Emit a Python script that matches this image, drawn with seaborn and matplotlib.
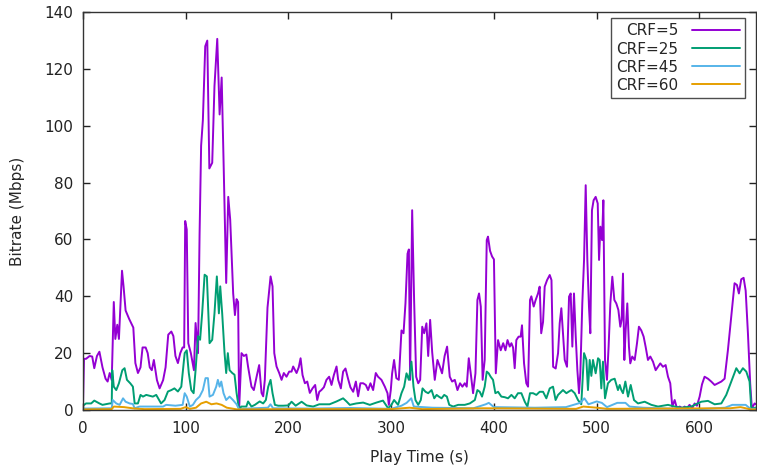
"""Bitrate over play time for four CRF settings (gnuplot-like look)."""

import matplotlib
matplotlib.use("Agg")
import matplotlib.pyplot as plt
import seaborn as sns

# readings: (time in s, bitrate in Mbps)
crf5_t = [0, 1, 3, 6.5, 9, 11, 13.6, 16, 19, 22, 24, 26, 28, 30, 31.5, 33.4, 35, 38, 39.5,
          41.5, 45, 49, 51, 53.5, 56, 58, 61, 63, 65, 67, 69, 72, 74.6, 78, 80.4, 83, 86,
          88, 90, 92.4, 94.7, 97, 98.5, 99.5, 101, 102.5, 105, 108, 109.6, 112, 113.5, 115,
          116.7, 119, 121, 123, 125.8, 128, 130.7, 133, 135, 137, 139.4, 141.4, 143.3,
          146.2, 147.9, 149.5, 151, 152, 154.3, 156.6, 159, 160.7, 164, 166.3, 169, 171.5,
          173.8, 175.4, 177, 179.6, 182.6, 184.5, 186.2, 188.4, 191, 193.3, 195.5, 198.1,
          200.7, 203, 204.6, 207.9, 210, 211.8, 213.7, 216, 218.3, 220.8, 223.4, 226, 228,
          230, 232, 234.5, 237, 239.6, 241.9, 244.2, 246.8, 248.4, 251, 253.2, 255.5, 258,
          260.3, 263, 265.6, 267.8, 270, 272.7, 275.3, 277.5, 279.8, 282.4, 285, 287.2,
          290.5, 293.8, 296.4, 297.7, 299.6, 300.9, 302.8, 305, 307.4, 310, 312, 313.9,
          315.9, 317.2, 318.4, 320.4, 322.3, 324.3, 326.3, 328.2, 330.2, 332.1, 334.3, 336,
          337.9, 339.9, 342.4, 345, 347.3, 349.5, 352, 354.4, 357, 359.3, 361.9, 364.5, 367,
          369.3, 371.6, 373.5, 375.5, 377.4, 379.7, 382, 383.9, 385.5, 387.2, 389, 391, 393,
          394.2, 396.2, 398.2, 400, 401.8, 404, 406.6, 409, 411.2, 413.2, 415.4, 417, 418.6,
          420.2, 421.8, 424, 426, 427.3, 429.3, 431.5, 433.2, 435.1, 436.4, 438.7, 440.6,
          442.9, 444.5, 446, 447.8, 449.4, 451.7, 454.3, 456, 457.6, 460.1, 462.4, 464,
          465.6, 467.2, 468.9, 471.1, 473.1, 474.7, 476.3, 477.9, 479.6, 481.2, 482.8, 484.1,
          486, 487.7, 489.3, 490.9, 492.5, 493.8, 495.4, 497, 499, 501, 502.3, 503.6, 505.2,
          506.5, 508.1, 510, 511.6, 513.3, 515.2, 517.2, 519.1, 521.1, 523, 524.3, 525.6,
          526.9, 528.2, 529.8, 531.4, 532.7, 534.6, 537, 539.2, 541.1, 543.4, 545.7, 547.6,
          549.9, 552.2, 554.8, 557.4, 559.6, 561.9, 564.5, 567.1, 569.4, 571.6, 573.6, 575.9,
          578.1, 580.8, 583.4, 585.6, 587.8, 590.4, 593, 595.3, 597.6, 600.2, 602.5, 605,
          608.3, 611.5, 614.8, 618, 621.3, 624.5, 627.7, 631, 634.2, 636.5, 638.4, 640.7,
          643, 645, 647.2, 649.4, 651, 653.7, 655]
crf5_v = [1.5, 18, 18, 19, 18.8, 14.7, 19, 20.5, 15, 11, 10, 13, 10.5, 38, 25, 30, 25, 49, 43.5,
          35, 32, 29, 16.5, 13, 15, 22, 22, 20, 15, 14, 17.6, 10.5, 7.6, 10.5, 15, 26.5, 27.6,
          26, 19, 16.5, 20, 22, 22, 66.5, 63.5, 23.5, 20, 14, 30.6, 20, 62, 93,
          102, 128, 130, 85, 87, 114, 130.6, 104, 117, 85, 44.7, 75, 67,
          41, 33.4, 39, 38, 0.5, 20, 19, 19.5, 15.2, 8.2, 7, 11.7, 15.8,
          6, 4.8, 10.6, 36, 47, 43.5, 20, 15.3, 13, 10.6, 13, 11.7,
          13.5, 13.5, 15.3, 13, 15, 18.2, 12.3, 9.4, 10, 6, 7.6, 8.8, 3.5,
          6.4, 7, 8, 10.6, 11.7, 8.8, 12.3, 15.3, 10.6, 7.6, 13.5, 14.6, 11,
          8, 6.4, 10, 4.8, 9.4, 9.4, 8.8, 7, 9.4, 7, 13, 11.7,
          10.6, 8.2, 5.9, 1.8, 7, 12.9, 17.6, 11.2, 10.6, 28, 27, 37.6,
          55, 56.5, 10.6, 70.3, 38.7, 11.7, 9.4, 10.6, 29.3, 27, 30.5, 19,
          31.7, 20.3, 10.6, 17.6, 15.3, 12.9, 19, 22.3, 11.7, 10, 10.6, 7, 9.4,
          8.2, 9.4, 8.2, 18.2, 12.9, 5.9, 12.9, 38.7, 41, 36.4, 10.6, 17.6, 59.8,
          61, 56, 54, 53, 12.9, 24.6, 21, 23.5, 21, 24.6, 22.3, 23.5, 22,
          14.7, 24.6, 25.8, 25.8, 29.8, 16.4, 9.4, 8.2, 38.7, 40, 36.4, 38.7,
          41, 43.4, 27, 31, 43.4, 45.7, 47.5, 45.7, 15.2, 14.6, 20, 30.5,
          35.8, 27, 17.6, 15.2, 39.9, 41, 22.3, 41, 25.8, 14, 5.9, 13,
          37.5, 52.8, 79.1, 52.8, 36.3, 27, 70.3, 73.8, 75, 72.7, 52.8, 64.5, 59.8,
          73.8, 17.6, 10.6, 22.3, 37.5, 46.9, 38.7, 37.5, 35.2, 29.3, 31.7, 48,
          17.6, 28, 37.5, 22.3, 16.4, 18.8, 17.6, 23.4, 29.3, 28, 25.8, 22.3,
          17.6, 18.8, 17, 14, 15.2, 16.4, 15.2, 15.8, 11.7, 9.4, 1.2, 3.5,
          0.6, 1.2, 0.6, 1.2, 0.6, 1.8, 0.6, 2.3, 1.5, 4.7, 9, 11.7,
          11, 10, 8.8, 9.4, 10, 11, 21, 32.8, 44.6, 44, 41, 46,
          46.5, 42, 27, 9.4, 0.6, 2.3, 2]

crf25_t = [0, 3, 8, 11, 16, 19, 26, 28, 28.5, 30, 32.4, 35, 38.3, 40.5, 42.8, 46, 48.6, 50.3,
           53.5, 56, 58.4, 61.6, 65, 68, 71.3, 76, 79.4, 82.7, 86, 89, 92.4, 95.7, 99, 101,
           103, 105.4, 107.7, 109.6, 112, 114, 116, 118.4, 120.6, 123.2, 125.8, 128, 130.3,
           132.3, 133.6, 135.5, 137.8, 139.4, 141, 142.7, 145.3, 147.5, 149.5, 152, 154, 159,
           160.7, 164, 167.3, 172, 175.4, 178, 180.3, 182.6, 184.5, 186.8, 190, 195, 200,
           203, 207, 212.8, 217.7, 224, 230, 240, 246.8, 253.2, 256.5, 259.7, 266, 272.7,
           279.2, 285.6, 292, 297, 300.2, 302.8, 306.7, 310, 312.6, 314.9, 317.2, 319.7,
           321.7, 323.6, 326.3, 328.8, 330.5, 333.4, 336, 339.3, 341.9, 344.2, 346.4, 349,
           351.6, 354.2, 356.5, 360.3, 365.2, 371.6, 376.5, 381.4, 383.9, 386.2, 388.4, 391,
           393, 394.9, 396.8, 399.1, 401.4, 404, 407.2, 410.5, 413.7, 417, 420.2, 423.4,
           426.7, 430, 432.6, 435.1, 438.1, 441.3, 444.5, 447.8, 451, 454.3, 457.5, 460,
           462.4, 467.2, 470.5, 473, 475.4, 478.6, 481.8, 485, 487.7, 490, 491.5, 493.2,
           494.8, 496.4, 499, 501.3, 502.9, 504.5, 506.1, 508.1, 511, 514.2, 517.5, 520.7,
           522.4, 524, 525.6, 527.9, 530.5, 533.1, 536.3, 540.2, 546.7, 553.2, 559.7, 569.4,
           575.9, 582.4, 592, 601.8, 608.3, 614.8, 621.3, 626.1, 631, 635.9, 639.1, 642.3,
           645.6, 648.8, 650.4, 655]
crf25_v = [1.5, 2.3, 2.3, 3.3, 2.3, 1.8, 2.3, 2.3, 14, 8.2, 7, 9.4, 14, 14.7, 10.6, 9.4, 8.2, 2.3,
           2.3, 5.3, 4.7, 5.3, 5, 4.7, 5.3, 2.3, 3.5, 6.5, 7, 7.6, 6.5, 8.2, 20, 21,
           13, 7, 5.9, 14, 26, 24.7, 34, 47.6, 47, 23.5, 24.7, 34, 47,
           34, 43.5, 34, 20, 13, 20, 14, 13, 12.4, 6, 0, 1.2, 1.2,
           3, 1.2, 1.8, 3, 2.3, 3.5, 8.2, 10.6, 5.9, 1.8, 1.5, 1.5, 1.6,
           2.9, 1.5, 2.9, 1.6, 1.2, 2, 2, 3, 4.1, 3, 1.8, 2.3, 2.6,
           1.8, 2.6, 3.3, 0.6, 1.8, 3.5, 1.8, 5.9, 8.2, 12.9, 10.6, 17,
           8.2, 3.5, 1.8, 3.5, 7.6, 6.4, 5.9, 7, 4.1, 5.3, 4.7, 4.1,
           5.3, 4.7, 1.8, 1.2, 1.8, 1.8, 2.3, 3.5, 7, 6.4, 4.7, 8.2,
           13.5, 12.9, 11.7, 10.6, 5.9, 6.4, 4.7, 4.5, 4.1, 5.3, 4.1, 5.9,
           5.9, 2.9, 1.2, 5.9, 5.9, 5.3, 6.4, 6.4, 4.1, 7.6, 8.2, 3.5,
           5.3, 7, 5.9, 6.5, 7, 5.9, 3.5, 2, 20, 17.6, 7, 17.6,
           12, 17.6, 12.9, 18.2, 17.6, 7.6, 17, 4.1, 9.4, 10.6, 11, 7,
           8.8, 7, 5.9, 10, 4.7, 8.8, 3.5, 2.3, 2.9, 1.8, 1.2, 1.8,
           1.2, 0.8, 1.2, 2.9, 3.2, 2, 2.3, 5.3, 10, 14.7, 12.9, 14.7,
           13.5, 10, 0.6, 0.8]

crf45_t = [0, 28, 29, 32.4, 35.7, 39, 41.5, 45.4, 48.6, 50.3, 55, 78, 81, 90, 97, 99, 101, 104,
           107, 110, 113.5, 116.7, 119.3, 121.6, 123.2, 126.5, 129.7, 131.3, 133, 134.6,
           136.8, 139.4, 142.7, 146, 149.5, 152, 160, 180, 182.5, 185, 220, 260, 300, 310,
           315, 319.5, 322, 340, 380, 392, 395, 400, 440, 470, 484, 488, 492, 500, 505, 510,
           520, 528, 532, 545, 570, 600, 625, 632, 645, 650, 655]
crf45_v = [0.5, 0.6, 3.5, 2.3, 1.8, 4.1, 2.9, 2.3, 2.1, 0.6, 1.2, 1.2, 1.8, 1.5, 1.8, 5.9, 4.7, 1.2,
           1.8, 3.5, 4.7, 7, 11.2, 11.2, 4.7, 5.3, 8.2, 10.6, 8.2, 10,
           5.9, 3.5, 4.7, 3.5, 2, 0.2, 0.5, 0.8, 2, 0.6, 0.5, 0.7, 0.4, 1.5,
           2.5, 4.1, 1.2, 0.8, 0.6, 2, 2.5, 1, 0.8, 1, 2.5, 4.1, 2, 3, 2.5, 1,
           2.5, 2.5, 1.2, 0.8, 0.5, 0.3, 0.8, 1.8, 1.8, 0.3, 0.5]

crf60_t = [0, 28, 30, 40, 50, 60, 95, 100, 104, 110, 115, 120, 125, 130, 135, 140, 150, 200,
           300, 318, 330, 390, 480, 487, 500, 510, 630, 640, 650, 655]
crf60_v = [0.2, 0.3, 1.2, 1, 0.5, 0.3, 0.4, 1, 0.4, 0.8, 2.3, 2.9, 2, 2.3, 1.8, 0.8, 0.2, 0.3,
           0.3, 0.8, 0.3, 0.6, 0.4, 1.2, 0.8, 0.4, 0.6, 1, 0.2, 0.2]

series = [
    ("CRF=5", crf5_t, crf5_v, "#9400D3"),
    ("CRF=25", crf25_t, crf25_v, "#009E73"),
    ("CRF=45", crf45_t, crf45_v, "#56B4E9"),
    ("CRF=60", crf60_t, crf60_v, "#E69F00"),
]

sns.set_theme(style="ticks")
plt.rcParams["font.family"] = ["DejaVu Sans"]

fig = plt.figure(figsize=(7.57, 4.68), dpi=100)
ax = fig.add_axes([0.1096, 0.124, 0.889, 0.850])

for name, t, v, color in series:
    sns.lineplot(x=t, y=v, ax=ax, color=color, linewidth=1.4, label=name,
                 estimator=None, sort=False)

ax.set_xlim(0, 655)
ax.set_ylim(0, 140)
ax.set_xticks(range(0, 601, 100))
ax.set_yticks(range(0, 141, 20))
ax.tick_params(direction="in", length=5, width=1, top=True, right=True,
               labelsize=11, colors="#222222")
ax.tick_params(axis="x", pad=8)
ax.tick_params(axis="y", pad=7)
for sp in ax.spines.values():
    sp.set_visible(True)
    sp.set_linewidth(1)
    sp.set_color("#333333")

ax.set_xlabel("Play Time (s)", fontsize=11, labelpad=10)
ax.set_ylabel("Bitrate (Mbps)", fontsize=11, labelpad=14)

# gnuplot style key: label first, sample line on the right, square box
leg = ax.legend(loc="upper right", bbox_to_anchor=(0.9836, 0.985), borderaxespad=0,
                markerfirst=False, fancybox=False, frameon=True, fontsize=11,
                handlelength=3.1, labelspacing=0.2, borderpad=0.35, handletextpad=0.9)
leg.get_frame().set_edgecolor("#222222")
leg.get_frame().set_linewidth(1)

fig.savefig("out.png", dpi=100)
